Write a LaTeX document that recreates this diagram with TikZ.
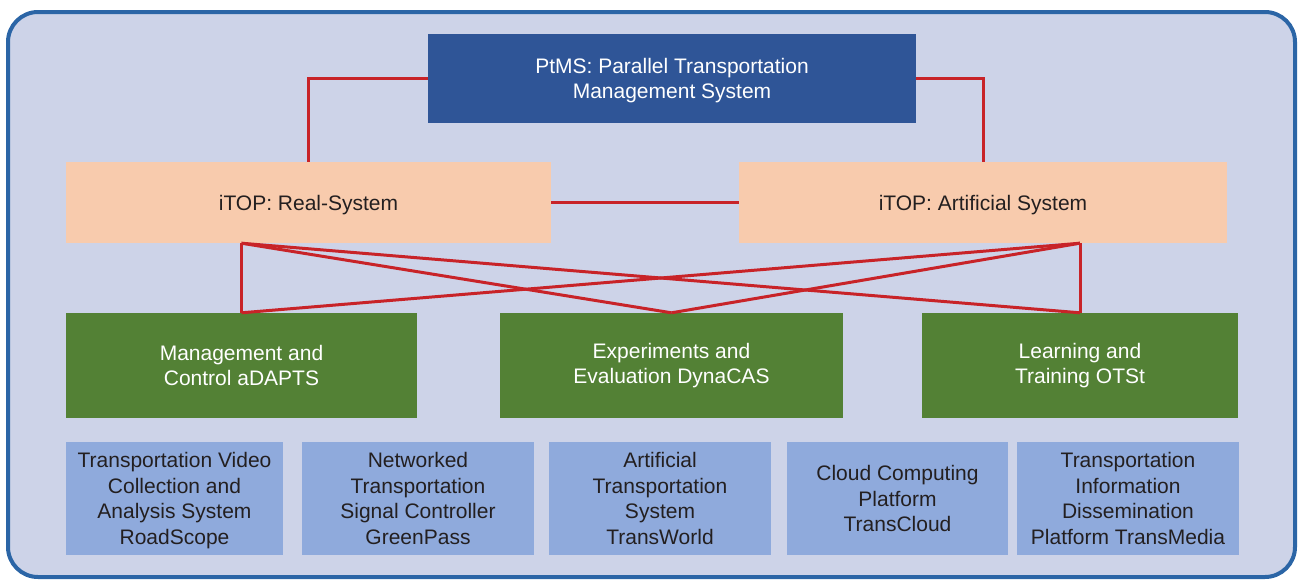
\documentclass[tikz,border=0pt]{standalone}
\usepackage{fontspec}
\setmainfont{Liberation Sans}
\usetikzlibrary{positioning}

\definecolor{panelbg}{RGB}{205,211,232}
\definecolor{panelrim}{RGB}{43,101,166}
\definecolor{ptmsblue}{RGB}{47,85,151}
\definecolor{itoppeach}{RGB}{248,203,173}
\definecolor{subgreen}{RGB}{83,129,53}
\definecolor{platblue}{RGB}{143,170,220}
\definecolor{linkred}{RGB}{200,35,40}
\definecolor{textdark}{RGB}{35,31,32}

\begin{document}
\begin{tikzpicture}[x=1pt, y=-1pt,
    txt/.style={align=center, font=\fontsize{21}{25.5}\selectfont, inner sep=0pt},
    topbox/.style={txt, fill=ptmsblue, text=white, text depth=0pt, minimum width=488pt, minimum height=89pt},
    itopbox/.style={txt, fill=itoppeach, text=textdark, text depth=0pt, minimum height=81pt},
    subbox/.style={txt, fill=subgreen, text=white, minimum height=105pt},
    platbox/.style={txt, fill=platblue, text=textdark, text depth=0pt, minimum height=113pt},
    link/.style={linkred, line width=3pt}]
    \useasboundingbox (0,0) rectangle (1302,581);

    % panel
    \draw[panelrim, fill=panelbg, line width=4pt, rounded corners=30pt] (8,12) rectangle (1295,577);

    % top level
    \node[topbox] (ptms) at (672,78.5) {PtMS: Parallel Transportation\\Management System};
    \node[itopbox, minimum width=485pt] (real) at (308.5,202.5) {iTOP: Real-System};
    \node[itopbox, minimum width=488pt] (art) at (983,202.5) {iTOP: Artificial System};

    % subsystems
    \node[subbox, minimum width=351pt] (mac) at (241.5,365.5) {Management and\\Control aDAPTS};
    \node[subbox, minimum width=343pt] (ead) at (671.5,365.5) {Experiments and\\Evaluation DynaCAS};
    \node[subbox, minimum width=316pt] (lat) at (1080,365.5) {Learning and\\Training OTSt};

    % platforms
    \node[platbox, minimum width=217pt] (scope) at (174.5,498.5) {Transportation Video\\Collection and\\Analysis System\\RoadScope};
    \node[platbox, minimum width=232pt] (green) at (418,498.5) {Networked\\Transportation\\Signal Controller\\GreenPass};
    \node[platbox, minimum width=222pt] (world) at (660,498.5) {Artificial\\Transportation\\System\\TransWorld};
    \node[platbox, minimum width=221pt] (cloud) at (897.5,498.5) {Cloud Computing\\Platform\\TransCloud};
    \node[platbox, minimum width=222pt] (media) at (1128,498.5) {Transportation\\Information\\Dissemination\\Platform TransMedia};

    % links
    \draw[link] (ptms.west) -| (real.north);
    \draw[link] (ptms.east) -| (art.north);
    \draw[link] (real.east) -- (art.west);

    \coordinate (rs) at (mac.north |- real.south);
    \coordinate (as) at (lat.north |- art.south);
    \foreach \s in {rs,as}
        \foreach \t in {mac,ead,lat}
            \draw[link, line join=miter] (\s) -- (\t.north);
\end{tikzpicture}
\end{document}
